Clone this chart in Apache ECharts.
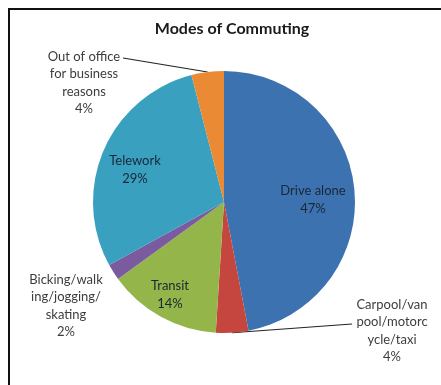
<!DOCTYPE html>
<html>
<head>
<meta charset="utf-8">
<script src="https://cdn.jsdelivr.net/npm/echarts@6/dist/echarts.min.js"></script>
<style>
html,body{margin:0;padding:0;background:#fff;}
#chart{width:441px;height:385px;}
</style>
</head>
<body>
<div id="chart"></div>
<script>
// ---- data ----
var categories = [
  'Drive alone',
  'Carpool/van\npool/motorc\nycle/taxi',
  'Transit',
  'Bicking/walk\ning/jogging/\nskating',
  'Telework',
  'Out of office\nfor business\nreasons'
];
var shares = [47, 4, 14, 2, 29, 4];
var sliceColors = ['#3D72B0', '#C4463F', '#93B54A', '#7B5BA0', '#39A0BF', '#EA8A35'];

// ---- layout (not data) ----
var CX = 224, CY = 202, R = 131;
// label anchor centres and leader-line end points per slice
var labelPlace = [
  {x: 313, y: 200, inside: true},
  {x: 392, y: 331, line: [352, 324]},
  {x: 170, y: 295, inside: true},
  {x: 66,  y: 306},
  {x: 135, y: 170, inside: true},
  {x: 84,  y: 83,  line: [123, 58]}
];

var total = shares.reduce(function(a, b){ return a + b; }, 0);
function edgePoint(i) {
  var cum = 0;
  for (var k = 0; k < i; k++) cum += shares[k];
  var frac = (cum + shares[i] / 2) / total;
  var th = frac * Math.PI * 2;
  return [CX + R * Math.sin(th), CY - R * Math.cos(th)];
}

var data = categories.map(function(name, i) {
  var place = labelPlace[i];
  return {
    name: name,
    value: shares[i],
    itemStyle: {color: sliceColors[i]},
    label: {color: place.inside ? '#1a2636' : '#3d3d3d'},
    labelLine: {show: !!place.line}
  };
});

var chart = echarts.init(document.getElementById('chart'), null, {renderer: 'canvas'});
chart.setOption({
  backgroundColor: '#ffffff',
  animation: false,
  title: {
    text: 'Modes of Commuting',
    left: 227,
    top: 16,
    textAlign: 'center',
    textStyle: {fontFamily: 'Lato', fontWeight: 'bold', fontSize: 16, color: '#1a1a1a'}
  },
  graphic: [{
    type: 'rect',
    shape: {x: 9, y: 9, width: 460, height: 400},
    style: {fill: 'none', stroke: '#111', lineWidth: 2},
    z: 100
  }],
  series: [{
    type: 'pie',
    center: [CX, CY],
    radius: [0, R],
    startAngle: 90,
    clockwise: true,
    avoidLabelOverlap: false,
    data: data,
    itemStyle: {borderWidth: 0},
    label: {
      show: true,
      position: 'outside',
      fontFamily: 'Lato',
      fontSize: 13,
      lineHeight: 17.5,
      formatter: function(p) { return p.name + '\n' + p.value + '%'; }
    },
    labelLine: {
      show: true,
      length: 5,
      length2: 5,
      lineStyle: {color: '#222', width: 1.2}
    },
    labelLayout: function(params) {
      var i = params.dataIndex;
      var place = labelPlace[i];
      var out = {x: place.x, y: place.y, align: 'center', verticalAlign: 'middle'};
      if (place.line) {
        var e = edgePoint(i);
        out.labelLinePoints = [e, place.line, place.line];
      }
      return out;
    }
  }]
});
</script>
</body>
</html>
